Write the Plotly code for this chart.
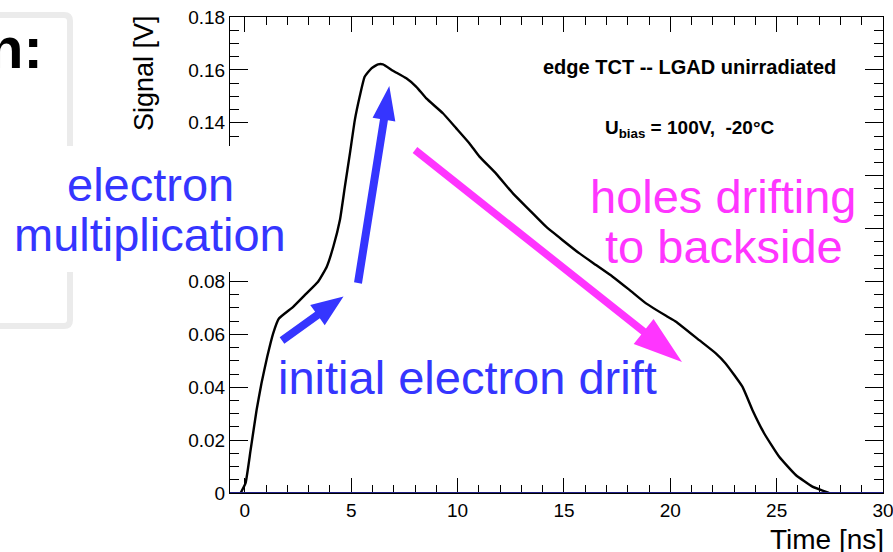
import math
import plotly.graph_objects as go

# ---------------- data ----------------
time_ns = [-0.2, 0.03, 0.27, 0.55, 0.78, 1.05, 1.33, 1.6, 2.27, 2.9, 3.44, 3.85,
           4.16, 4.47, 4.7, 4.94, 5.17, 5.4, 5.63, 5.95, 6.26, 6.49, 6.96, 7.59,
           8.06, 8.53, 9.31, 9.94, 10.56, 11.03, 11.82, 12.6, 13.38, 14.16, 14.94,
           15.73, 16.51, 17.29, 18.08, 18.86, 19.8, 20.27, 21.36, 22.14, 22.6,
           23.39, 23.86, 24.41, 25.12, 25.9, 26.68, 27.46]
signal_v = [0.0, 0.0037, 0.0163, 0.0314, 0.0415, 0.0515, 0.0604, 0.066, 0.0704,
            0.0755, 0.0799, 0.0856, 0.0932, 0.1033, 0.1158, 0.1285, 0.1411, 0.150,
            0.1574, 0.1606, 0.1621, 0.1621, 0.1597, 0.1568, 0.1536, 0.1492, 0.1436,
            0.1379, 0.1322, 0.1272, 0.1207, 0.1133, 0.107, 0.1007, 0.0956, 0.0906,
            0.0862, 0.0818, 0.0768, 0.0717, 0.067, 0.0648, 0.0578, 0.0528, 0.049,
            0.0402, 0.0314, 0.0226, 0.0137, 0.0068, 0.0024, 0.0]
baseline_t = [-0.7, 30.0]
baseline_v = [0.0, 0.0]
x_range = [-0.7, 30.0001]
y_range = [0.0, 0.18]
x_tickvals = [0, 5, 10, 15, 20, 25, 30]
x_ticktext = ["0", "5", "10", "15", "20", "25", "30"]
y_tickvals = [0, 0.02, 0.04, 0.06, 0.08, 0.10, 0.12, 0.14, 0.16, 0.18]
# labels 0.1 and 0.12 are hidden behind the "electron multiplication" label
y_ticktext = ["0", "0.02", "0.04", "0.06", "0.08", " ", " ", "0.14", "0.16", "0.18"]

FONT = "Liberation Sans, Arial, Helvetica, sans-serif"
BLUE = "#3535ff"
MAGENTA = "#ff35ff"

# ---------------- layout geometry (pixels) ----------------
W, H = 893, 552
L, R, T, B = 230, 883, 17, 493


def pp(px, py):
    return (px - L) / (R - L), (B - py) / (B - T)


fig = go.Figure()
fig.add_trace(go.Scatter(x=time_ns, y=signal_v, mode="lines",
                         line=dict(color="black", width=2.4, shape="spline", smoothing=0.4),
                         hoverinfo="skip", showlegend=False))
fig.add_trace(go.Scatter(x=baseline_t, y=baseline_v, mode="lines",
                         line=dict(color="#1e1e82", width=2), cliponaxis=False,
                         hoverinfo="skip", showlegend=False))

common = dict(showline=True, linecolor="black", linewidth=1, mirror="allticks",
              ticks="inside", tickcolor="black", tickwidth=1, showgrid=False,
              zeroline=False, automargin=False, ticklabeloverflow="allow",
              tickfont=dict(family=FONT, size=19, color="black"))

fig.update_layout(
    width=W, height=H,
    margin=dict(l=L, r=W - R, t=T, b=H - B, pad=0),
    paper_bgcolor="white", plot_bgcolor="white",
    showlegend=False,
    xaxis=dict(range=x_range, tickmode="array", tickvals=x_tickvals, ticktext=x_ticktext,
               ticklen=15, layer="below traces",
               minor=dict(ticks="inside", tick0=0, dtick=1, ticklen=8,
                          tickcolor="black", tickwidth=1, showgrid=False),
               **common),
    yaxis=dict(range=y_range, tickmode="array", tickvals=y_tickvals, ticktext=y_ticktext,
               ticklen=18,
               minor=dict(ticks="inside", tick0=0, dtick=0.005, ticklen=9,
                          tickcolor="black", tickwidth=1, showgrid=False),
               **common),
)

shapes = []
# light gray box on the left (partially visible)
pts = [(-20, 15), (64, 15), (70, 15), (70, 21), (70, 320), (70, 326), (64, 326), (-20, 326)]
P = [pp(*p) for p in pts]
path = (f"M {P[0][0]},{P[0][1]} L {P[1][0]},{P[1][1]} Q {P[2][0]},{P[2][1]} {P[3][0]},{P[3][1]} "
        f"L {P[4][0]},{P[4][1]} Q {P[5][0]},{P[5][1]} {P[6][0]},{P[6][1]} L {P[7][0]},{P[7][1]}")
shapes.append(dict(type="path", xref="paper", yref="paper", path=path,
                   line=dict(color="#ebebeb", width=6), layer="above"))
# white patch covering the axis behind the label
x0, y0 = pp(0, 272)
x1, y1 = pp(300, 146)
shapes.append(dict(type="rect", xref="paper", yref="paper", x0=x0, y0=y0, x1=x1, y1=y1,
                   fillcolor="white", line=dict(width=0), layer="above"))

# arrows: tail, tip, head length, head width, shaft width, colour (pixels)
arrows = [
    ((282, 340.5), (343.5, 296.5), 32, 25, 8, BLUE),
    ((358, 283), (389.3, 86), 34, 23, 8, BLUE),
    ((415, 150), (682, 362), 49, 32, 7.5, MAGENTA),
]
for tail, tip, hl, hw, sw, col in arrows:
    dx, dy = tip[0] - tail[0], tip[1] - tail[1]
    d = math.hypot(dx, dy)
    ux, uy = dx / d, dy / d
    nx, ny = -uy, ux
    bx, by = tip[0] - ux * hl, tip[1] - uy * hl
    poly = [
        (tail[0] + nx * sw / 2, tail[1] + ny * sw / 2),
        (bx + nx * sw / 2, by + ny * sw / 2),
        (bx + nx * hw / 2, by + ny * hw / 2),
        tip,
        (bx - nx * hw / 2, by - ny * hw / 2),
        (bx - nx * sw / 2, by - ny * sw / 2),
        (tail[0] - nx * sw / 2, tail[1] - ny * sw / 2),
    ]
    pc = [pp(*p) for p in poly]
    path = "M " + " L ".join(f"{a},{b}" for a, b in pc) + " Z"
    shapes.append(dict(type="path", xref="paper", yref="paper", path=path,
                       fillcolor=col, line=dict(width=0), layer="above"))

fig.update_layout(shapes=shapes)


def ann(text, px, py, size, color="black", xanchor="center", yanchor="middle",
        weight="normal", angle=0):
    x, y = pp(px, py)
    fig.add_annotation(text=text, x=x, y=y, xref="paper", yref="paper",
                       xanchor=xanchor, yanchor=yanchor, showarrow=False,
                       textangle=angle, borderpad=0,
                       font=dict(family=FONT, size=size, color=color, weight=weight))


ann("n:", 44, 47, 58, weight="bold", xanchor="right")
ann("electron", 150, 184, 47, color=BLUE)
ann("multiplication", 150, 234, 47, color=BLUE)
ann("initial electron drift", 277, 377, 47, color=BLUE, xanchor="left")
ann("holes drifting", 723, 196, 47, color=MAGENTA)
ann("to backside", 724, 247, 47, color=MAGENTA)
ann("edge TCT -- LGAD unirradiated", 689, 67, 20, weight="bold")
ann("U<sub>bias</sub> = 100V,&nbsp; -20°C", 690, 116, 19, weight="bold", yanchor="top")
ann("Signal [V]", 144, 14, 27, angle=-90, yanchor="top")
ann("Time [ns]", 885, 539, 28, xanchor="right")

fig.write_html("out.html")
